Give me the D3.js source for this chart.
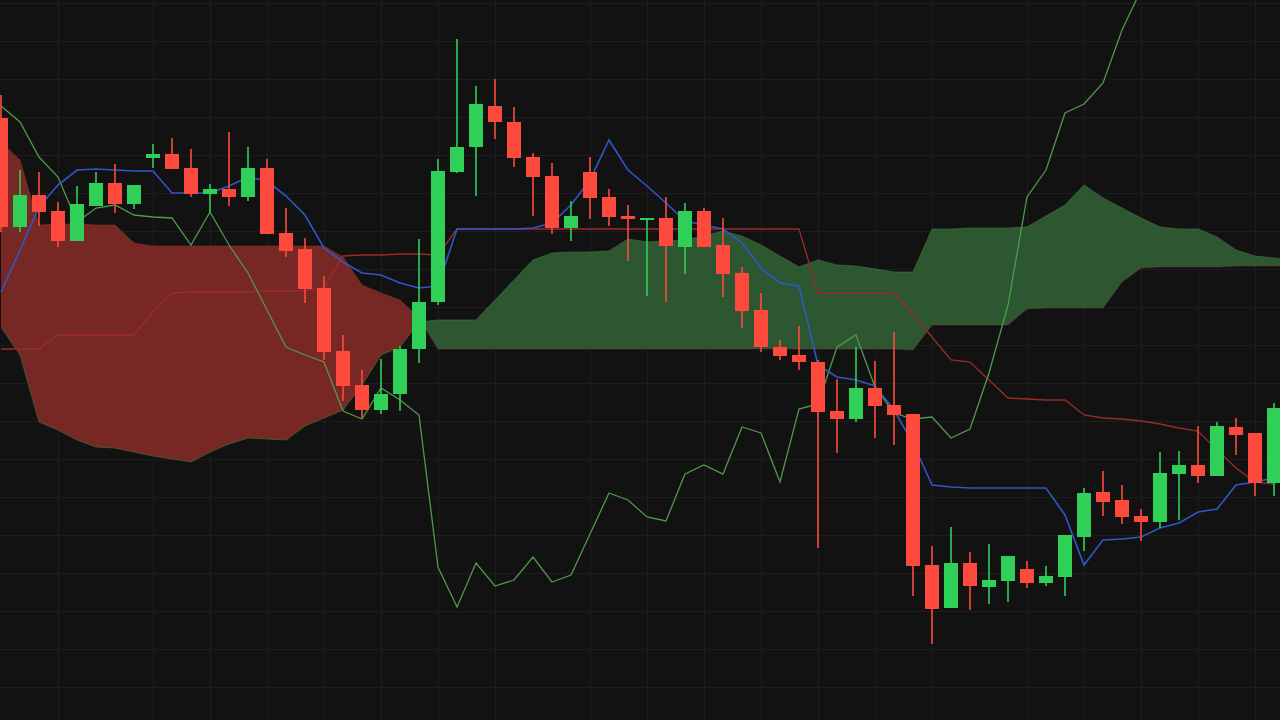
<!DOCTYPE html>
<html><head><meta charset="utf-8">
<script src="https://cdn.jsdelivr.net/npm/d3@7"></script>
<style>html,body{margin:0;padding:0;background:#121212;overflow:hidden}</style>
</head><body>
<svg id="chart" width="1280" height="720"></svg>
<script>
// OHLC candles (bar index 0..67)
const opens  = [60.2,49.3,52.5,50.9,47.9,51.4,53.7,51.6,56.2,56.6,55.2,52.6,53.1,52.3,55.2,48.7,47.1,43.2,36.9,33.5,31.0,32.6,37.1,41.8,54.8,57.3,61.4,59.8,56.3,54.4,49.2,54.8,52.3,50.4,50.0,50.2,47.3,50.9,47.5,44.7,41.0,37.3,36.5,35.8,30.9,30.1,33.2,31.5,30.6,15.5,11.2,15.7,13.3,13.9,15.1,13.7,14.3,18.3,22.8,22.0,20.4,19.8,24.6,25.5,24.4,29.3,28.7,23.7];
const highs  = [62.5,55.0,54.8,51.8,53.4,54.8,55.6,53.5,57.6,58.2,57.1,53.6,58.8,57.3,56.1,51.2,48.2,44.4,38.5,35.0,36.1,37.4,48.1,56.1,68.1,63.4,64.1,61.3,56.7,55.7,51.9,56.3,53.1,51.5,50.2,52.3,51.7,51.2,50.2,45.3,42.7,38.0,39.4,36.0,34.1,37.3,35.9,38.8,30.6,17.4,19.3,16.8,17.6,16.4,15.9,15.4,18.5,23.2,24.9,23.5,21.1,26.8,26.9,29.4,29.8,30.2,28.7,31.7];
const lows   = [48.8,48.8,49.4,47.3,47.9,51.4,50.7,51.1,55.2,55.1,52.3,50.8,51.4,51.9,48.6,46.3,41.7,36.0,31.9,30.2,30.6,30.9,35.7,41.5,54.7,52.4,58.1,55.3,50.4,48.6,47.9,50.1,49.4,45.9,42.4,41.8,44.6,47.3,42.3,39.2,36.8,36.0,35.0,17.2,26.7,29.8,28.2,27.5,12.4,7.6,11.2,11.0,11.6,11.8,13.2,13.4,12.4,16.9,20.4,19.6,17.9,19.2,20.0,23.7,24.4,26.5,22.4,22.4];
const closes = [49.3,52.5,50.8,47.9,51.6,53.7,51.6,53.5,56.6,55.1,52.6,53.1,52.3,55.2,48.6,46.9,43.1,36.8,33.4,31.0,32.6,37.1,41.8,54.9,57.3,61.6,59.8,56.2,54.3,49.2,50.4,52.2,50.3,50.1,50.2,47.4,50.9,47.3,44.6,40.9,37.3,36.4,35.8,30.8,30.1,33.2,31.4,30.5,15.4,11.1,15.7,13.4,14.0,16.4,13.7,14.4,18.5,22.7,21.8,20.3,19.8,24.7,25.5,24.4,29.4,28.5,23.7,31.2];

// Ichimoku lines
const tenkan = [42.8,47.0,51.3,53.5,55.0,55.1,55.0,54.9,54.9,52.7,52.7,52.7,53.4,54.3,53.9,52.4,50.5,47.2,45.8,44.7,44.5,43.7,43.2,43.4,49.1,49.1,49.1,49.1,49.2,49.7,51.5,54.0,58.0,55.0,53.4,51.7,49.9,49.5,49.1,47.7,45.2,43.7,43.4,35.5,34.3,34.0,33.4,31.0,27.7,23.5,23.3,23.2,23.2,23.2,23.2,23.2,20.5,15.5,18.0,18.1,18.3,19.2,19.7,20.8,21.1,23.5,23.8,24.2];
const kijun  = [37.1,37.1,37.1,38.5,38.5,38.5,38.5,38.5,40.8,42.7,42.8,42.8,42.8,42.8,42.9,42.9,42.9,43.2,46.4,46.5,46.5,46.6,46.6,46.5,49.1,49.1,49.1,49.1,49.1,49.1,49.1,49.1,49.1,49.1,49.1,49.1,49.1,49.1,49.1,49.1,49.1,49.1,49.1,42.7,42.7,42.7,42.7,42.7,40.6,38.3,36.0,35.8,34.0,32.2,32.1,32.0,32.0,30.5,30.2,30.1,29.9,29.6,29.2,28.9,27.0,25.2,23.8,23.6];
const chikou = [61.4,59.8,56.3,54.3,49.8,51.2,51.5,50.5,50.3,50.2,47.5,50.8,47.5,44.7,41.0,37.3,36.5,35.8,30.9,30.1,33.2,32.0,30.5,15.3,11.3,15.7,13.4,14.0,16.3,13.8,14.5,18.6,22.7,22.0,20.3,19.9,24.6,25.5,24.6,29.3,28.7,23.8,31.1,31.6,37.3,38.5,33.3,30.7,30.1,30.3,28.2,29.1,34.7,41.5,52.3,55.0,60.7,61.6,63.7,69.0,73.0];
const spanA  = [39.3,36.5,29.8,29.0,28.0,27.3,27.2,26.8,26.4,26.1,25.8,26.8,27.6,28.2,28.1,28.0,29.4,30.2,31.0,33.5,36.5,37.3,39.8,40.0,40.0,40.0,42.0,44.0,46.0,46.7,46.8,46.8,46.9,48.1,47.8,47.9,48.0,48.4,48.9,48.4,47.5,46.4,45.3,46.0,45.5,45.4,45.1,44.8,44.8,49.1,49.1,49.2,49.2,49.2,49.3,50.4,51.5,53.5,52.2,51.2,50.2,49.3,49.1,49.1,48.3,47.0,46.4,46.2,46.0];
const spanB  = [57.8,56.0,49.5,49.6,49.6,49.5,49.5,47.7,47.4,47.4,47.4,47.4,47.4,47.4,47.4,47.4,47.4,47.4,46.3,43.5,42.7,42.0,40.2,37.1,37.1,37.1,37.1,37.1,37.1,37.1,37.1,37.1,37.1,37.1,37.1,37.1,37.1,37.1,37.1,37.1,37.1,37.1,37.1,37.1,37.1,37.1,37.1,37.1,37.0,39.5,39.5,39.5,39.5,39.5,41.1,41.2,41.2,41.2,41.2,43.8,45.2,45.3,45.3,45.3,45.3,45.4,45.4,45.4,45.4];

// grid tick values
const gridPrices = [71.7,67.9,64.1,60.3,56.5,52.7,48.9,45.1,41.3,37.5,33.7,29.9,26.1,22.3,18.5,14.7,10.9,7.1,3.3];
const gridBars = [3,8,11,14,17,20,23,26,31,34,37,40,43,46,49,54,57,60,63,66];

const W = 1280, H = 720;
const svg = d3.select("#chart");
const x = d3.scaleLinear().domain([0, 67]).range([1, 1274]);
const y = d3.scaleLinear().domain([0, 72]).range([H, 0]);

svg.append("rect").attr("width", W).attr("height", H).attr("fill", "#121212");

// grid
const gy = svg.append("g").call(d3.axisLeft(y).tickValues(gridPrices).tickSize(-W).tickFormat(""));
const gx = svg.append("g").attr("transform", `translate(0,${H})`).call(d3.axisBottom(x).tickValues(gridBars).tickSize(-H).tickFormat(""));
[gx, gy].forEach(g => {
  g.select(".domain").remove();
  g.selectAll("line").attr("stroke", "#1d1d1d").attr("stroke-width", 1);
});

// cloud: split into runs of equal sign, with crossing points
const runs = [];
let cur = null;
const sign = i => (spanA[i] >= spanB[i] ? 1 : -1);
for (let i = 0; i < spanA.length; i++) {
  const s = sign(i);
  if (!cur) { cur = { s, pts: [] }; }
  cur.pts.push({ t: i, a: spanA[i], b: spanB[i] });
  if (i < spanA.length - 1 && sign(i + 1) !== s) {
    const d0 = spanA[i] - spanB[i], d1 = spanA[i + 1] - spanB[i + 1];
    const f = d0 / (d0 - d1);
    const v = spanA[i] + f * (spanA[i + 1] - spanA[i]);
    const c = { t: i + f, a: v, b: v };
    cur.pts.push(c);
    runs.push(cur);
    cur = { s: -s, pts: [c] };
  }
}
if (cur) runs.push(cur);

const area = d3.area().x(d => x(d.t)).y0(d => y(d.b)).y1(d => y(d.a));
svg.append("g").selectAll("path").data(runs).join("path")
  .attr("d", r => area(r.pts))
  .attr("fill", r => r.s > 0 ? "#2d5731" : "#772824")
  .attr("stroke", "none");

const line = arr => d3.line().x((d, i) => x(i)).y(d => y(d))(arr);

// span edge lines
svg.append("path").attr("d", line(spanA)).attr("fill", "none").attr("stroke", "#447a40").attr("stroke-opacity", 0.6).attr("stroke-width", 1);
svg.append("path").attr("d", line(spanB)).attr("fill", "none").attr("stroke", "#8a3a34").attr("stroke-opacity", 0.45).attr("stroke-width", 1);

// kijun, tenkan, chikou
svg.append("path").attr("d", line(kijun)).attr("fill", "none").attr("stroke", "#9a2b2b").attr("stroke-width", 1.3);
svg.append("path").attr("d", line(chikou)).attr("fill", "none").attr("stroke", "#4f9a4b").attr("stroke-width", 1.3);
svg.append("path").attr("d", line(tenkan)).attr("fill", "none").attr("stroke", "#2f57c9").attr("stroke-width", 1.6);

// candles
const up = "#30cf58", down = "#fd4a3c";
const candles = opens.map((o, i) => ({ i, o, h: highs[i], l: lows[i], c: closes[i] }));
const cg = svg.append("g").selectAll("g").data(candles).join("g");
cg.append("line")
  .attr("x1", d => x(d.i)).attr("x2", d => x(d.i))
  .attr("y1", d => y(d.h)).attr("y2", d => y(d.l))
  .attr("stroke", d => d.c >= d.o ? up : down).attr("stroke-width", 1.6);
cg.append("rect")
  .attr("x", d => x(d.i) - 7).attr("width", 14)
  .attr("y", d => y(Math.max(d.o, d.c)))
  .attr("height", d => Math.max(2, Math.abs(y(d.o) - y(d.c))))
  .attr("fill", d => d.c >= d.o ? up : down);
</script>
</body></html>
